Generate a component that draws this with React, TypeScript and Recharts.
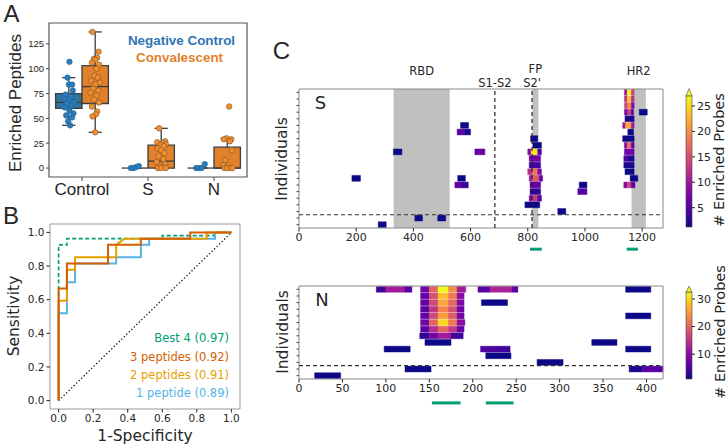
import React from "react";
import {
  ScatterChart,
  Scatter,
  LineChart,
  Line,
  XAxis,
  YAxis,
  ReferenceArea,
  ReferenceLine,
} from "recharts";

const ARIAL = "'Liberation Sans', Arial, sans-serif";
const DEJA = "'DejaVu Sans', sans-serif";
const INK = "#262626";

// ---- panel A: enriched peptides ----
const CATEGORIES = ["Control", "S", "N"];
// [lower whisker, q1, median, q3, upper whisker]
const NEG_STATS = [
  [43, 60, 66, 75, 91],
  [0, 0, 0, 0, 0],
  [0, 0, 0, 0, 0],
];
const CONV_STATS = [
  [36, 65, 82, 103, 137],
  [0, 0, 7, 23, 40],
  [0, 0, 0, 21, 30],
];
// [jitter, value]
const NEG_POINTS = [
  [[0.01, 107], [-0.02, 91], [0.0, 84], [0.05, 84], [0.06, 78], [-0.05, 74], [0.03, 72], [-0.07, 70], [0.0, 68], [0.08, 66], [-0.03, 65], [0.04, 63], [-0.06, 61], [0.01, 58], [0.07, 55], [-0.04, 53], [0.05, 51], [-0.01, 47], [0.02, 43]],
  [[-0.06, 0], [-0.02, 0], [0.02, 1], [0.06, 2]],
  [[-0.07, 0], [-0.03, 0], [0.01, 0], [0.06, 4]],
];
const CONV_POINTS = [
  [[-0.04, 137], [0.05, 117], [0.03, 111], [-0.02, 110], [0.0, 109], [-0.05, 106], [0.06, 104], [0.02, 100], [-0.01, 93], [0.04, 91], [-0.06, 88], [0.07, 86], [0.0, 84], [-0.03, 80], [0.05, 78], [-0.07, 76], [0.02, 73], [-0.02, 69], [0.06, 66], [-0.05, 62], [0.03, 57], [0.01, 54], [-0.04, 52], [0.0, 36]],
  [[-0.03, 40], [0.06, 27], [-0.06, 26], [0.02, 25], [0.07, 24], [-0.01, 23], [0.04, 22], [-0.05, 20], [0.0, 18], [0.05, 15], [-0.04, 12], [0.03, 9], [-0.07, 6], [0.06, 4], [-0.02, 2], [0.04, 1], [-0.05, 0], [0.0, 0], [0.07, 0]],
  [[0.03, 62], [-0.01, 30], [0.06, 29], [-0.05, 29], [0.04, 27], [0.07, 18], [-0.03, 8], [-0.06, 3], [-0.04, 0], [0.0, 0], [0.05, 0], [0.08, 0]],
];
const A_TICKS = [0, 25, 50, 75, 100, 125];

// ---- panel B: ROC ----
const BEST4_FPR = [0, 0, 0.048, 0.048, 0.6, 0.6, 0.9, 0.9, 1];
const BEST4_TPR = [0, 0.926, 0.926, 0.963, 0.963, 0.981, 0.981, 1, 1];
const THREE_FPR = [0, 0, 0.048, 0.048, 0.286, 0.286, 0.476, 0.476, 0.762, 0.762, 1];
const THREE_TPR = [0, 0.667, 0.667, 0.815, 0.815, 0.926, 0.926, 0.963, 0.963, 1, 1];
const TWO_FPR = [0, 0, 0.048, 0.048, 0.095, 0.095, 0.333, 0.333, 0.381, 0.857, 0.857, 1];
const TWO_TPR = [0, 0.593, 0.593, 0.778, 0.778, 0.852, 0.852, 0.926, 0.963, 0.963, 1, 1];
const ONE_FPR = [0, 0, 0.048, 0.048, 0.095, 0.095, 0.333, 0.333, 0.476, 0.476, 0.524, 0.524, 0.905, 0.905, 1];
const ONE_TPR = [0, 0.519, 0.519, 0.704, 0.704, 0.815, 0.815, 0.852, 0.852, 0.926, 0.926, 0.963, 0.963, 1, 1];
const ROC_TICKS = [0, 0.2, 0.4, 0.6, 0.8, 1.0];

// ---- panel C: heatmaps, cells are [row, start, end, enriched probes] ----
const S_ROWS = 21;
const S_TICKS = [0, 200, 400, 600, 800, 1000, 1200];
const S_REGIONS: [string, number, number, number][] = [["RBD", 331, 527, 14], ["FP", 816, 837, 16], ["HR2", 1163, 1213, 14]];
const S_EPITOPES = [[808, 849], [1146, 1185]];
const S_CELLS = [
  [15, 565, 593, 1], [14, 553, 580, 5], [14, 580, 600, 2], [11, 330, 360, 1], [11, 615, 650, 6],
  [7, 185, 215, 1], [7, 555, 582, 1], [6, 545, 570, 6], [6, 570, 592, 3], [1, 405, 432, 1],
  [1, 485, 513, 1], [0, 277, 305, 1], [2, 905, 933, 1], [6, 980, 1007, 1], [5, 975, 1007, 5],
  [17, 1190, 1218, 1],
  [13, 810, 835, 1], [12, 818, 848, 1], [11, 800, 812, 8], [11, 812, 835, 26], [11, 835, 848, 5],
  [10, 805, 845, 7], [9, 805, 845, 4], [8, 800, 815, 12], [8, 815, 835, 18], [8, 835, 848, 8],
  [7, 805, 815, 10], [7, 815, 840, 16], [7, 840, 852, 6], [6, 808, 845, 6], [5, 808, 845, 3],
  [4, 805, 815, 8], [4, 815, 835, 13], [4, 835, 848, 5], [3, 790, 842, 1],
  [20, 1138, 1148, 10], [20, 1148, 1162, 27], [20, 1162, 1172, 14],
  [19, 1138, 1148, 12], [19, 1148, 1162, 24], [19, 1162, 1172, 12],
  [18, 1138, 1150, 14], [18, 1150, 1162, 20], [18, 1162, 1172, 8],
  [17, 1138, 1150, 8], [17, 1150, 1162, 14], [17, 1162, 1170, 5],
  [16, 1140, 1172, 2],
  [15, 1132, 1142, 10], [15, 1142, 1162, 22], [15, 1162, 1172, 10],
  [14, 1150, 1170, 1], [13, 1132, 1172, 1],
  [12, 1138, 1148, 8], [12, 1148, 1162, 18], [12, 1162, 1172, 6],
  [11, 1138, 1172, 7], [10, 1136, 1150, 5], [10, 1150, 1172, 2], [9, 1136, 1172, 2],
  [8, 1140, 1172, 1], [7, 1158, 1185, 1],
  [6, 1136, 1148, 8], [6, 1148, 1162, 14], [6, 1162, 1175, 6],
];
const S_RANGE = [1.2, 27];

const N_ROWS = 14;
const N_TICKS = [0, 50, 100, 150, 200, 250, 300, 350, 400];
const N_EPITOPES = [[153, 186], [215, 247]];
const N_CELLS = [
  [13, 89, 100, 4], [13, 100, 122, 12], [13, 122, 130, 6],
  [13, 140, 150, 8], [13, 150, 160, 20], [13, 160, 172, 33], [13, 172, 182, 24], [13, 182, 192, 12],
  [13, 206, 220, 6], [13, 220, 245, 13], [13, 245, 252, 6], [13, 376, 405, 1],
  [12, 140, 150, 7], [12, 150, 160, 18], [12, 160, 172, 28], [12, 172, 182, 22], [12, 182, 190, 10],
  [11, 140, 150, 7], [11, 150, 160, 17], [11, 160, 172, 26], [11, 172, 182, 20], [11, 182, 190, 9],
  [11, 210, 240, 1],
  [10, 140, 150, 6], [10, 150, 160, 15], [10, 160, 172, 23], [10, 172, 182, 18], [10, 182, 190, 8],
  [9, 140, 150, 7], [9, 150, 160, 17], [9, 160, 172, 25], [9, 172, 182, 19], [9, 182, 190, 8],
  [9, 376, 405, 1],
  [8, 140, 150, 8], [8, 150, 160, 20], [8, 160, 172, 30], [8, 172, 182, 22], [8, 182, 191, 10],
  [7, 140, 150, 6], [7, 150, 160, 14], [7, 160, 172, 20], [7, 172, 182, 15], [7, 182, 190, 7],
  [6, 139, 150, 3], [6, 150, 160, 8], [6, 160, 175, 12], [6, 175, 189, 4],
  [5, 145, 175, 1], [5, 337, 366, 1],
  [4, 98, 128, 1], [4, 209, 225, 5], [4, 225, 243, 4], [4, 376, 405, 1],
  [3, 215, 244, 1], [2, 274, 304, 1], [1, 122, 152, 1], [1, 380, 395, 2], [1, 395, 419, 6],
  [0, 18, 48, 1],
];
const N_RANGE = [1, 32.5];

const PLASMA = ["#0d0887", "#41049d", "#6a00a8", "#8f0da4", "#b12a90", "#cc4778", "#e16462", "#f2844b", "#fca636", "#fcce25", "#f0f921"];

function hex(c: string) {
  return [1, 3, 5].map((i) => parseInt(c.slice(i, i + 2), 16));
}

function plasma(v: number, range: number[]) {
  const t = Math.max(0, Math.min(1, (v - range[0]) / (range[1] - range[0])));
  const p = t * 10;
  const i = Math.min(9, Math.floor(p));
  const f = p - i;
  const a = hex(PLASMA[i]);
  const b = hex(PLASMA[i + 1]);
  return `rgb(${a.map((x, k) => Math.round(x + (b[k] - x) * f)).join(",")})`;
}

function Txt({ x, y, size, children, color = INK, font = DEJA, rotate = 0, anchor = "middle", weight = 400 }: any) {
  const tx = anchor === "end" ? "-100%" : "-50%";
  return (
    <div
      style={{
        position: "absolute",
        left: x,
        top: y,
        transform: `translate(${tx}, -50%) rotate(${rotate}deg)`,
        fontSize: size,
        fontFamily: font,
        fontWeight: weight,
        color,
        whiteSpace: "nowrap",
        lineHeight: 1,
      }}
    >
      {children}
    </div>
  );
}

function boxMarks(stats: number[], center: number, fill: string, key: string) {
  const [lo, q1, med, q3, hi] = stats;
  const half = 0.2;
  const cap = 0.1;
  const line = { stroke: "#3d3d3d", strokeWidth: 1.3 };
  return [
    <ReferenceLine key={key + "w1"} segment={[{ x: center, y: lo }, { x: center, y: q1 }]} {...line} />,
    <ReferenceLine key={key + "w2"} segment={[{ x: center, y: q3 }, { x: center, y: hi }]} {...line} />,
    <ReferenceLine key={key + "c1"} segment={[{ x: center - cap, y: lo }, { x: center + cap, y: lo }]} {...line} />,
    <ReferenceLine key={key + "c2"} segment={[{ x: center - cap, y: hi }, { x: center + cap, y: hi }]} {...line} />,
    q3 > q1 ? (
      <ReferenceArea key={key + "b"} x1={center - half} x2={center + half} y1={q1} y2={q3} fill={fill} fillOpacity={1} stroke="#3d3d3d" strokeWidth={1.3} />
    ) : null,
    <ReferenceLine key={key + "m"} segment={[{ x: center - half, y: med }, { x: center + half, y: med }]} {...line} />,
  ];
}

const dot = (fill: string, stroke: string) => (p: any) => (
  <circle cx={p.cx} cy={p.cy} r={2.8} fill={fill} stroke={stroke} strokeWidth={0.5} />
);

function PanelA() {
  const neg = NEG_POINTS.flatMap((pts, g) => pts.map(([j, v]) => ({ x: g - 0.2 + j, y: v })));
  const conv = CONV_POINTS.flatMap((pts, g) => pts.map(([j, v]) => ({ x: g + 0.2 + j, y: v })));
  return (
    <ScatterChart width={250} height={210} margin={{ top: 23, right: 3, left: 9, bottom: 0 }}>
      <XAxis
        type="number"
        dataKey="x"
        domain={[-0.5, 2.5]}
        ticks={[0, 1, 2]}
        tickFormatter={(i: number) => CATEGORIES[i]}
        allowDataOverflow
        height={33}
        axisLine={false}
        tickSize={4}
        tickLine={{ stroke: "#444" }}
        tick={{ fontSize: 17, fontFamily: ARIAL, fill: INK }}
      />
      <YAxis
        type="number"
        dataKey="y"
        domain={[-9, 146]}
        ticks={A_TICKS}
        allowDataOverflow
        width={40}
        axisLine={false}
        tickSize={3}
        tickLine={{ stroke: "#444" }}
        tick={{ fontSize: 9.5, fontFamily: ARIAL, fill: INK }}
      />
      <ReferenceArea x1={-0.5} x2={2.5} y1={-9} y2={146} fill="none" stroke="#555" strokeWidth={1.2} />
      {CATEGORIES.map((c, g) => boxMarks(NEG_STATS[g], g - 0.2, "#3274a1", "n" + g))}
      {CATEGORIES.map((c, g) => boxMarks(CONV_STATS[g], g + 0.2, "#e1812c", "c" + g))}
      <Scatter data={neg} isAnimationActive={false} shape={dot("#2b7bba", "#1f5f8f")} />
      <Scatter data={conv} isAnimationActive={false} shape={dot("#f28e2b", "#6b4a2a")} />
    </ScatterChart>
  );
}

const roc = (fpr: number[], tpr: number[]) => fpr.map((f, i) => ({ fpr: f, tpr: tpr[i] }));

function PanelB() {
  const tickStyle = { fontSize: 10.5, fontFamily: DEJA, fill: INK };
  return (
    <LineChart width={250} height={237} margin={{ top: 14, right: 10, left: 10, bottom: 0 }}>
      <XAxis
        type="number"
        dataKey="fpr"
        domain={[-0.05, 1.05]}
        ticks={ROC_TICKS}
        tickFormatter={(v: number) => v.toFixed(1)}
        height={38}
        axisLine={false}
        tickSize={3.5}
        tickLine={{ stroke: INK }}
        tick={tickStyle}
      />
      <YAxis
        type="number"
        domain={[-0.05, 1.05]}
        ticks={ROC_TICKS}
        tickFormatter={(v: number) => v.toFixed(1)}
        width={40}
        axisLine={false}
        tickSize={3.5}
        tickLine={{ stroke: INK }}
        tick={tickStyle}
      />
      <ReferenceArea x1={-0.05} x2={1.05} y1={-0.05} y2={1.05} fill="none" stroke="#999" strokeWidth={1} />
      <ReferenceLine segment={[{ x: 0, y: 0 }, { x: 1, y: 1 }]} stroke="#111" strokeWidth={1.3} strokeDasharray="1.3 2.2" />
      <Line data={roc(BEST4_FPR, BEST4_TPR)} dataKey="tpr" type="linear" stroke="#009E73" strokeWidth={1.6} strokeDasharray="4 2.5" dot={false} isAnimationActive={false} />
      <Line data={roc(ONE_FPR, ONE_TPR)} dataKey="tpr" type="linear" stroke="#56B4E9" strokeWidth={2} dot={false} isAnimationActive={false} />
      <Line data={roc(TWO_FPR, TWO_TPR)} dataKey="tpr" type="linear" stroke="#E69F00" strokeWidth={2} dot={false} isAnimationActive={false} />
      <Line data={roc(THREE_FPR, THREE_TPR)} dataKey="tpr" type="linear" stroke="#D55E00" strokeWidth={2} dot={false} isAnimationActive={false} />
    </LineChart>
  );
}

function Heatmap({ cells, rows, xMax, ticks, range, epitopes, epY, height, marginTop, children }: any) {
  const rowTicks = Array.from({ length: rows }, (_, i) => i + 0.5);
  return (
    <ScatterChart width={420} height={height} margin={{ top: marginTop, right: 7, left: 0, bottom: 0 }}>
      <XAxis
        type="number"
        dataKey="x"
        domain={[0, xMax]}
        ticks={ticks}
        allowDataOverflow
        height={height - marginTop - (rows === S_ROWS ? 139 : 93)}
        axisLine={false}
        tickSize={3.5}
        tickLine={{ stroke: INK }}
        tick={{ fontSize: 11, fontFamily: DEJA, fill: INK }}
      />
      <YAxis
        type="number"
        dataKey="y"
        domain={[0, rows]}
        ticks={rowTicks}
        tickFormatter={() => ""}
        allowDataOverflow
        width={49}
        axisLine={false}
        tickSize={2.5}
        tickLine={{ stroke: "#444" }}
      />
      {children}
      <ReferenceLine y={2} stroke="#333" strokeWidth={1.2} strokeDasharray="4 3" />
      {cells.map(([r, a, b, v]: number[], i: number) => (
        <ReferenceArea key={i} x1={a} x2={b} y1={r + 0.06} y2={r + 0.94} fill={plasma(v, range)} fillOpacity={1} stroke={plasma(v, range)} strokeOpacity={0.45} strokeWidth={1} />
      ))}
      {epitopes.map(([a, b]: number[], i: number) => (
        <ReferenceLine key={"e" + i} segment={[{ x: a, y: epY }, { x: b, y: epY }]} ifOverflow="visible" stroke="#009E73" strokeWidth={3} />
      ))}
      <ReferenceArea x1={0} x2={xMax} y1={0} y2={rows} fill="none" stroke="#888" strokeWidth={1} />
    </ScatterChart>
  );
}

function ColorBar({ id, height, top, bottom, domain, range, ticks }: any) {
  return (
    <ScatterChart width={40} height={height} margin={{ top, right: 0, left: 6, bottom }}>
      <defs>
        <linearGradient id={id} x1="0" y1="1" x2="0" y2="0">
          {PLASMA.map((c, i) => (
            <stop key={i} offset={`${i * 10}%`} stopColor={c} />
          ))}
        </linearGradient>
      </defs>
      <XAxis type="number" dataKey="x" domain={[0, 1]} allowDataOverflow height={1} axisLine={false} tickLine={false} tick={false} />
      <YAxis
        type="number"
        dataKey="y"
        orientation="right"
        domain={domain}
        ticks={ticks}
        allowDataOverflow
        width={28}
        axisLine={false}
        tickSize={3}
        tickLine={{ stroke: INK }}
        tick={{ fontSize: 11, fontFamily: DEJA, fill: INK }}
      />
      <ReferenceArea x1={0} x2={1} y1={range[0]} y2={range[1]} fill={`url(#${id})`} fillOpacity={1} stroke="#444" strokeWidth={0.6} />
      <ReferenceArea
        x1={0}
        x2={1}
        y1={range[1]}
        y2={domain[1]}
        shape={(p: any) => (
          <polygon
            points={`${p.x},${p.y + p.height} ${p.x + p.width},${p.y + p.height} ${p.x + p.width / 2},${p.y}`}
            fill="#f0f921"
            stroke="#444"
            strokeWidth={0.6}
          />
        )}
      />
    </ScatterChart>
  );
}

const abs = (left: number, top: number) => ({ position: "absolute" as const, left, top });

export default function App() {
  const labelStyle = { fill: INK, fontSize: 11.5, fontFamily: DEJA };
  return (
    <div style={{ position: "absolute", left: 0, top: 0, width: 728, height: 447, background: "#fff", overflow: "hidden" }}>
      <div style={abs(0, 0)}>
        <PanelA />
      </div>
      <div style={abs(0, 210)}>
        <PanelB />
      </div>
      <div style={abs(250, 50)}>
        <Heatmap cells={S_CELLS} rows={S_ROWS} xMax={1273} ticks={S_TICKS} range={S_RANGE} epitopes={S_EPITOPES} epY={-3.2} height={215} marginTop={39}>
          {S_REGIONS.map(([name, a, b, off]) => (
            <ReferenceArea key={name} x1={a} x2={b} fill="#c0c0c0" fillOpacity={1} label={{ value: name, position: "top", offset: off, ...labelStyle }} />
          ))}
          <ReferenceLine x={685} stroke="#222" strokeWidth={1.2} strokeDasharray="4 3" label={{ value: "S1-S2", position: "top", offset: 2, ...labelStyle }} />
          <ReferenceLine x={815} stroke="#222" strokeWidth={1.2} strokeDasharray="4 3" label={{ value: "S2'", position: "top", offset: 2, ...labelStyle }} />
        </Heatmap>
      </div>
      <div style={abs(250, 270)}>
        <Heatmap cells={N_CELLS} rows={N_ROWS} xMax={419} ticks={N_TICKS} range={N_RANGE} epitopes={N_EPITOPES} epY={-3.6} height={150} marginTop={16} />
      </div>
      <div style={abs(680, 80)}>
        <ColorBar id="plasmaS" height={152} top={8.7} bottom={4} domain={[1.2, 28.4]} range={S_RANGE} ticks={[5, 10, 15, 20, 25]} />
      </div>
      <div style={abs(680, 280)}>
        <ColorBar id="plasmaN" height={104} top={6} bottom={4} domain={[1, 34.7]} range={N_RANGE} ticks={[10, 20, 30]} />
      </div>

      <Txt x={11.5} y={13.5} size={24} font={ARIAL}>A</Txt>
      <Txt x={14.5} y={103} size={17} font={ARIAL} rotate={-90}>Enriched Peptides</Txt>
      <Txt x={181.5} y={40.7} size={13.4} font={ARIAL} weight={700} color="#2f75b5">Negative Control</Txt>
      <Txt x={179.5} y={58} size={13.4} font={ARIAL} weight={700} color="#e1812c">Convalescent</Txt>

      <Txt x={11} y={216} size={24} font={ARIAL}>B</Txt>
      <Txt x={15} y={316} size={15.5} rotate={-90}>Sensitivity</Txt>
      <Txt x={145} y={437} size={15.5}>1-Specificity</Txt>
      <Txt x={229} y={339} size={11.5} anchor="end" color="#009E73">Best 4 (0.97)</Txt>
      <Txt x={229} y={357.5} size={11.5} anchor="end" color="#D55E00">3 peptides (0.92)</Txt>
      <Txt x={229} y={376} size={11.5} anchor="end" color="#E69F00">2 peptides (0.91)</Txt>
      <Txt x={229} y={394} size={11.5} anchor="end" color="#56B4E9">1 peptide (0.89)</Txt>

      <Txt x={281.5} y={51} size={24} font={ARIAL}>C</Txt>
      <Txt x={283} y={158.5} size={15.5} rotate={-90}>Individuals</Txt>
      <Txt x={284} y={332} size={15.5} rotate={-90}>Individuals</Txt>
      <Txt x={320.5} y={103.3} size={18}>S</Txt>
      <Txt x={322} y={300} size={18}>N</Txt>
      <Txt x={719} y={160} size={14.5} rotate={-90}># Enriched Probes</Txt>
      <Txt x={720} y={332} size={14.5} rotate={-90}># Enriched Probes</Txt>
    </div>
  );
}
